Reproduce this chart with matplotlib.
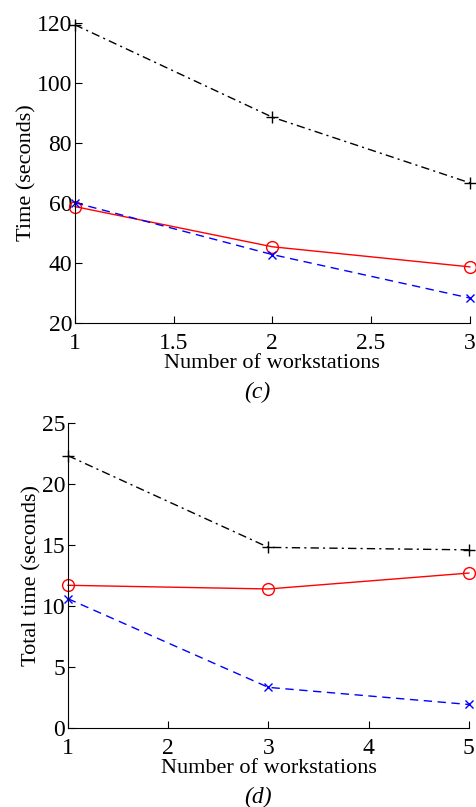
import matplotlib
matplotlib.use('Agg')
import matplotlib.pyplot as plt

# panel (c)
ws_c = [1, 2, 3]
black_c = [119.4, 88.6, 66.7]
red_c = [58.8, 45.4, 38.7]
blue_c = [60.1, 42.8, 28.3]

# panel (d)
ws_d = [1, 3, 5]
black_d = [22.3, 14.8, 14.6]
red_d = [11.7, 11.4, 12.7]
blue_d = [10.6, 3.35, 1.95]

plt.rcParams['font.family'] = ['Liberation Serif', 'DejaVu Serif']
plt.rcParams['font.size'] = 17

fig = plt.figure(figsize=(4.77, 8.07), dpi=100)
ax1 = fig.add_axes([0.157, 0.5998, 0.828, 0.3717])
ax2 = fig.add_axes([0.1426, 0.0975, 0.8404, 0.3787])


def style(ax):
    ax.spines['top'].set_visible(False)
    ax.spines['right'].set_visible(False)
    ax.tick_params(direction='in', length=5, labelsize=17)
    ax.tick_params(axis='x', pad=7)
    ax.tick_params(axis='y', pad=2)
    ax.set_xlabel('Number of workstations', fontsize=16, labelpad=0)


def draw(ax, x, black, red, blue):
    ax.plot(x, black, color='black', linestyle=(0, (6, 3, 1.5, 3)), marker='+', markersize=9, lw=1, clip_on=False)
    ax.plot(x, red, color='red', linestyle='-', marker='o', markersize=8.5, mfc='none', lw=1, clip_on=False)
    ax.plot(x, blue, color='blue', linestyle=(0, (6, 4)), marker='x', markersize=6, lw=1, clip_on=False)


draw(ax1, ws_c, black_c, red_c, blue_c)
ax1.set_xlim(1, 3)
ax1.set_ylim(20, 120)
ax1.set_xticks([1, 1.5, 2, 2.5, 3])
ax1.set_xticklabels(['1', '1.5', '2', '2.5', '3'])
ax1.set_yticks([20, 40, 60, 80, 100, 120])
ax1.set_ylabel('Time (seconds)', fontsize=16, labelpad=0)
style(ax1)

draw(ax2, ws_d, black_d, red_d, blue_d)
ax2.set_xlim(1, 5)
ax2.set_ylim(0, 25)
ax2.set_xticks([1, 2, 3, 4, 5])
ax2.set_yticks([0, 5, 10, 15, 20, 25])
ax2.set_ylabel('Total time (seconds)', fontsize=16, labelpad=0)
style(ax2)

fig.text(0.54, 1 - 392 / 807, '(c)', ha='center', va='center', fontsize=17, style='italic')
fig.text(0.54, 1 - 797 / 807, '(d)', ha='center', va='center', fontsize=17, style='italic')

fig.savefig('out.png', dpi=100)
